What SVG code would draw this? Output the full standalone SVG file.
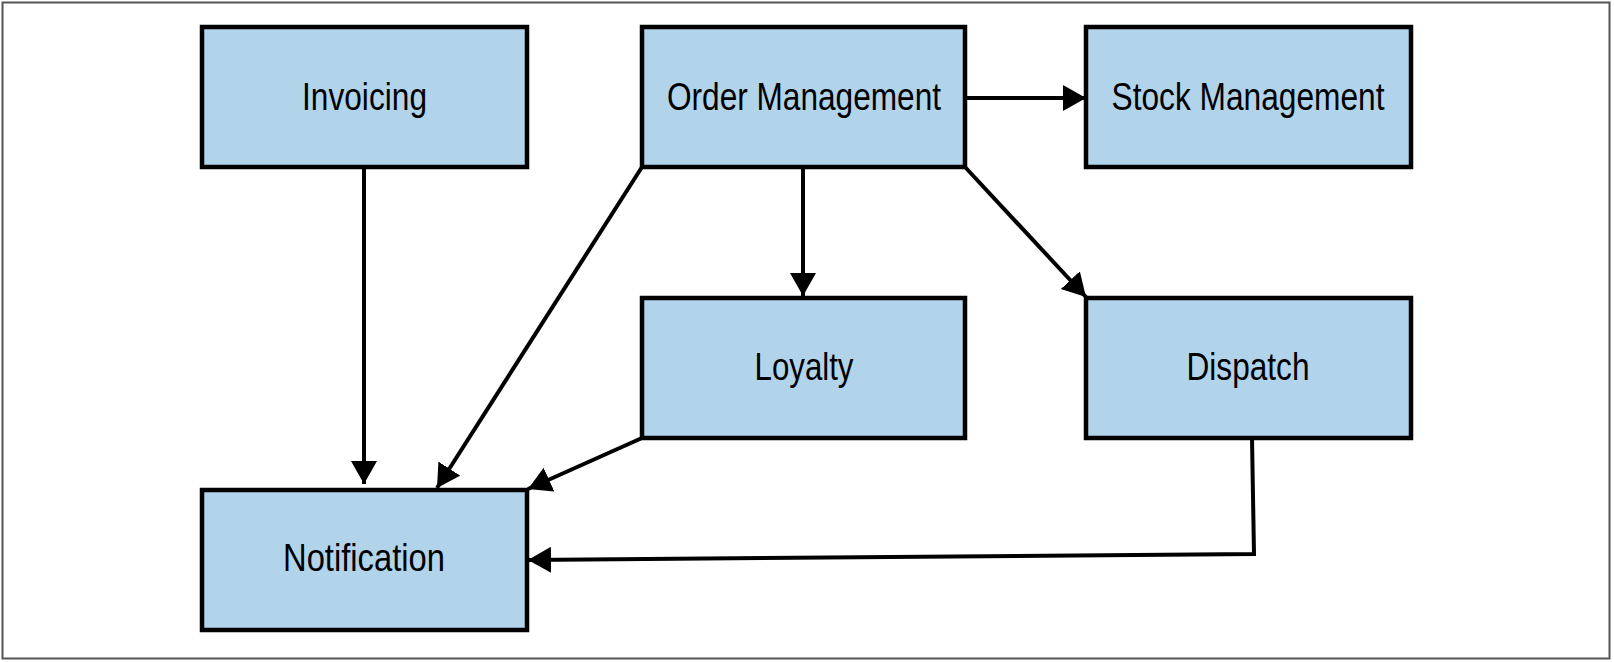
<svg xmlns="http://www.w3.org/2000/svg" width="1614" height="662" viewBox="0 0 1614 662">
  <style>
    .box { fill: #b2d4ea; stroke: #000; stroke-width: 4.5; }
    .lbl { font-family: "Liberation Sans", Arial, sans-serif; font-size: 38px; fill: #000; text-anchor: middle; }
    .edge { fill: none; stroke: #000; stroke-width: 4; marker-end: url(#arrow); }
  </style>
  <defs>
    <marker id="arrow" markerUnits="userSpaceOnUse" markerWidth="25" markerHeight="27" refX="23" refY="13" orient="auto">
      <path d="M0,0 L23,13 L0,26 Z" fill="#000"/>
    </marker>
  </defs>
  <rect x="2.5" y="2.5" width="1607" height="656" fill="#fff" stroke="#555" stroke-width="2"/>

  <g id="connectors">
    <path class="edge" d="M364,167 L364,484"/>
    <path class="edge" d="M642,167 L437,488"/>
    <path class="edge" d="M642,438 L528,489"/>
    <path class="edge" d="M1252,438 L1254,554 L528,560"/>
    <path class="edge" d="M965,98 L1086,98"/>
    <path class="edge" d="M803,167 L803,296"/>
    <path class="edge" d="M965,167 L1086,297"/>
  </g>

  <g id="invoicing">
    <rect class="box" x="202" y="27" width="325" height="140"/>
    <text class="lbl" x="364.5" y="110" textLength="125" lengthAdjust="spacingAndGlyphs">Invoicing</text>
  </g>
  <g id="order-management">
    <rect class="box" x="642" y="27" width="323" height="140"/>
    <text class="lbl" x="804" y="110" textLength="274" lengthAdjust="spacingAndGlyphs">Order Management</text>
  </g>
  <g id="stock-management">
    <rect class="box" x="1086" y="27" width="325" height="140"/>
    <text class="lbl" x="1248" y="110" textLength="273" lengthAdjust="spacingAndGlyphs">Stock Management</text>
  </g>
  <g id="loyalty">
    <rect class="box" x="642" y="298" width="323" height="140"/>
    <text class="lbl" x="804" y="380" textLength="99" lengthAdjust="spacingAndGlyphs">Loyalty</text>
  </g>
  <g id="dispatch">
    <rect class="box" x="1086" y="298" width="325" height="140"/>
    <text class="lbl" x="1248" y="380" textLength="123" lengthAdjust="spacingAndGlyphs">Dispatch</text>
  </g>
  <g id="notification">
    <rect class="box" x="202" y="490" width="325" height="140"/>
    <text class="lbl" x="364" y="571" textLength="162" lengthAdjust="spacingAndGlyphs">Notification</text>
  </g>
</svg>
